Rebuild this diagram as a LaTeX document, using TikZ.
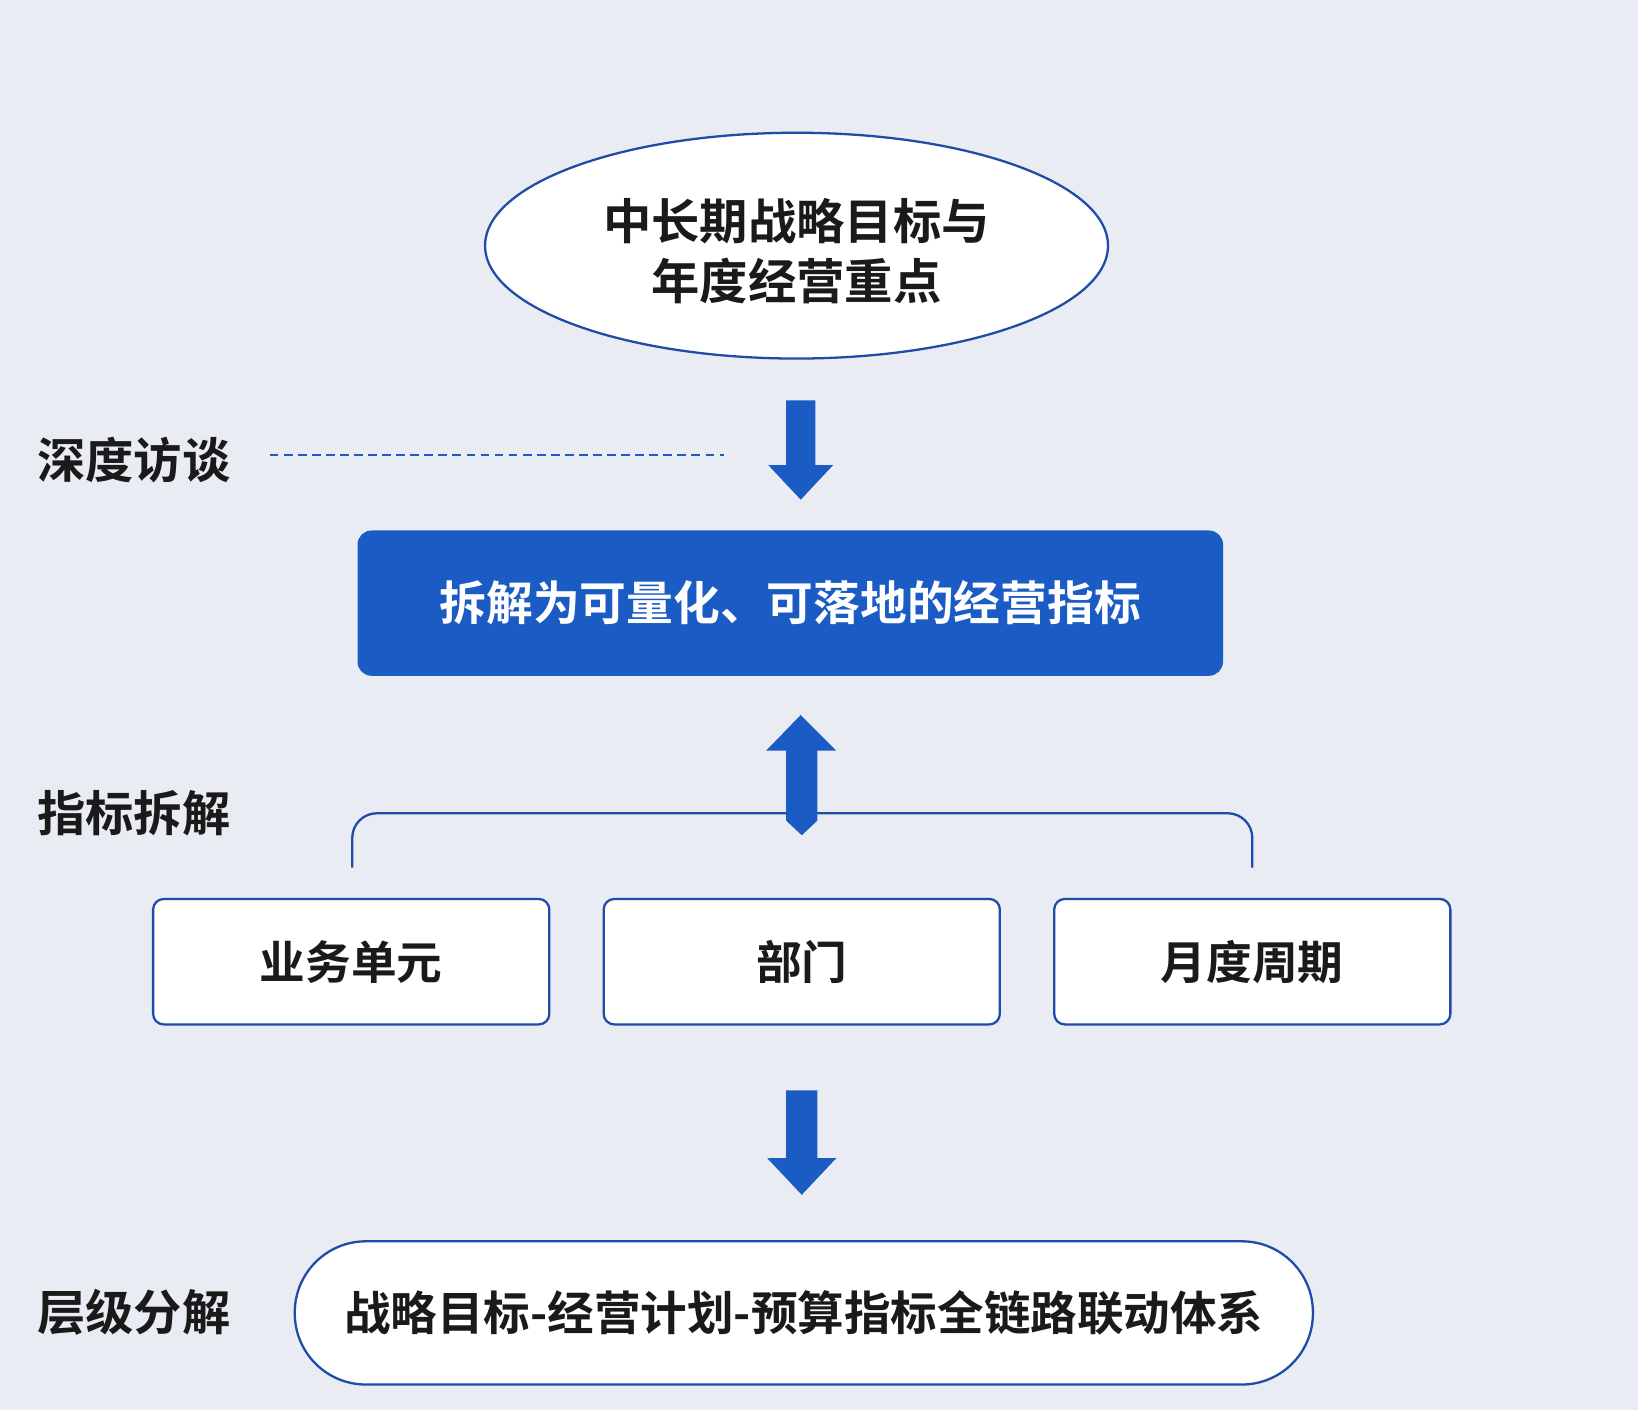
\documentclass[tikz,border=0pt]{standalone}
\usepackage{fontspec}
\newfontfamily\cjk{Noto Sans CJK SC}[BoldFont={Noto Sans CJK SC Bold}]
\usetikzlibrary{shapes.geometric}
\definecolor{bg}{HTML}{E9ECF2}
\definecolor{bl}{HTML}{1A5CC4}
\definecolor{bd}{HTML}{1E4CA6}
\definecolor{tx}{HTML}{1A1A1A}
\tikzset{
  lab/.style={font=\cjk\bfseries\fontsize{27.5}{30}\selectfont, text=tx},
  wbox/.style={draw=bd, line width=1.3pt, fill=white, rounded corners=6pt, minimum width=379*0.0209cm, minimum height=120*0.0209cm, font=\cjk\bfseries\fontsize{26}{30}\selectfont, text=tx},
  arr/.style={fill=bl, draw=none}
}
\begin{document}
\begin{tikzpicture}[x=0.0209cm,y=-0.0209cm]
\fill[bg] (0,0) rectangle (1567,1349);
\useasboundingbox (0,0) rectangle (1567,1349);
\node[ellipse, draw=bd, line width=1.3pt, fill=white, minimum width=596*0.0209cm, minimum height=216*0.0209cm, align=center, text=tx] (top) at (762,235) {};
\node[align=center, font=\cjk\bfseries\fontsize{27.5}{34}\selectfont, text=tx] (toptxt) at (762,240) {中长期战略目标与\\年度经营重点};
% down arrow 1
\fill[arr] (752,383) -- (780,383) -- (780,445) -- (797,445) -- (766,478) -- (735,445) -- (752,445) -- cycle;
\coordinate (d1) at (258,435); \coordinate (d2) at (693,435);
\draw[bl, dash pattern=on 5pt off 3pt, line width=0.9pt] (d1) -- (d2);
\node[lab] (l1) at (128,440) {深度访谈};
\node[fill=bl, rounded corners=8pt, minimum width=828*0.0209cm, minimum height=139*0.0209cm, text=white, font=\cjk\bfseries\fontsize{26.6}{30}\selectfont] (mid) at (756,577) {拆解为可量化、可落地的经营指标};
% bracket
\draw[bd, line width=1.3pt, rounded corners=14pt] (337,830) -- (337,778) -- (1198,778) -- (1198,830);
% up arrow
\fill[arr] (766,684) -- (800,718) -- (782,718) -- (782,785) -- (767,799) -- (752,785) -- (752,718) -- (733,718) -- cycle;
\node[lab] (l2) at (128,778) {指标拆解};
\node[wbox] (b1) at (336,920) {业务单元};
\node[wbox] (b2) at (767,920) {部门};
\node[wbox] (b3) at (1198,920) {月度周期};
% down arrow 2
\fill[arr] (752,1043) -- (782,1043) -- (782,1108) -- (800,1108) -- (767,1143) -- (734,1108) -- (752,1108) -- cycle;
\node[lab] (l3) at (128,1255) {层级分解};
\node[draw=bd, line width=1.3pt, fill=white, rounded corners=68*0.0209cm, minimum width=974*0.0209cm, minimum height=137*0.0209cm, font=\cjk\bfseries\fontsize{26.5}{30}\selectfont, text=tx] (bot) at (769,1256) {战略目标-经营计划-预算指标全链路联动体系};
\end{tikzpicture}
\end{document}
